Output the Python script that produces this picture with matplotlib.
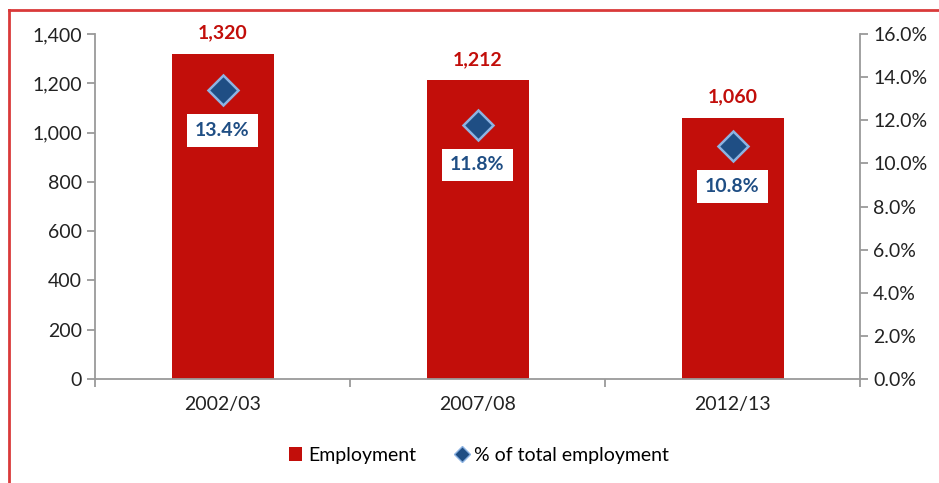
import matplotlib.pyplot as plt
import matplotlib.ticker as mticker
from matplotlib.lines import Line2D
from matplotlib.patches import Patch

years = ["2002/03", "2007/08", "2012/13"]
employment = [1320, 1212, 1060]
share_pct = [13.4, 11.8, 10.8]

bar_color = "#C20E0A"
dia_color = "#1F4E84"
dia_edge = "#8DB3E2"
grey = "#9A9A9A"

plt.rcParams["font.family"] = ["Lato", "DejaVu Sans"]

fig = plt.figure(figsize=(9.39, 4.83), dpi=100)
ax = fig.add_axes([95 / 939, 1 - 379 / 483, 765 / 939, 345 / 483])
ax2 = ax.twinx()

x = range(len(years))
ax.bar(x, employment, width=0.4, color=bar_color, zorder=2)
ax.set_xlim(-0.5, 2.5)
ax.set_ylim(0, 1400)
ax.yaxis.set_major_locator(mticker.MultipleLocator(200))
ax.yaxis.set_major_formatter(mticker.FuncFormatter(lambda v, p: f"{v:,.0f}"))

# value labels above bars
for i, v in enumerate(employment):
    ax.annotate(f"{v:,}", (i, v), xytext=(0, 9), textcoords="offset points",
                ha="center", va="bottom", color=bar_color, fontsize=14, fontweight="bold")

ax2.plot(x, share_pct, linestyle="none", marker="D", markersize=15,
         markerfacecolor=dia_color, markeredgecolor=dia_edge, markeredgewidth=1.8, zorder=3)
ax2.set_ylim(0, 16)
ax2.yaxis.set_major_locator(mticker.MultipleLocator(2))
ax2.yaxis.set_major_formatter(mticker.FuncFormatter(lambda v, p: f"{v:.1f}%"))

for i, v in enumerate(share_pct):
    ax2.annotate(f"{v}%", (i, v), xytext=(0, -29), textcoords="offset points",
                 ha="center", va="center", color=dia_color, fontsize=14, fontweight="bold",
                 bbox=dict(boxstyle="square,pad=0.4", fc="white", ec="none"))

# axis styling
for a in (ax, ax2):
    for s in a.spines.values():
        s.set_color(grey)
        s.set_linewidth(1.3)
    a.spines["top"].set_visible(False)
    a.tick_params(colors="#222222", labelsize=14, length=6, width=1.3, color=grey)
ax.spines["right"].set_visible(False)
ax2.spines["left"].set_visible(False)
ax2.spines["bottom"].set_visible(False)

ax.set_xticks(list(x))
ax.set_xticklabels(years)
ax.set_xticks([-0.5, 0.5, 1.5, 2.5], minor=True)
ax.tick_params(axis="x", which="major", length=0, pad=12)
ax.tick_params(axis="x", which="minor", length=6, width=1.3, color=grey)

handles = [Patch(facecolor=bar_color, label="Employment"),
           Line2D([], [], linestyle="none", marker="D", markersize=8,
                  markerfacecolor=dia_color, markeredgecolor=dia_edge,
                  label="% of total employment")]
fig.legend(handles=handles, loc="center", bbox_to_anchor=(0.51, 1 - 455 / 483), ncol=2,
           frameon=False, fontsize=14, handlelength=0.7, handletextpad=0.3,
           columnspacing=2.0)

# red frame (left and top edges visible)
fig.add_artist(Line2D([9 / 939, 9 / 939], [0, 1 - 10 / 483], color="#D93A3A", lw=2,
                      transform=fig.transFigure))
fig.add_artist(Line2D([9 / 939, 1], [1 - 10 / 483, 1 - 10 / 483], color="#D93A3A", lw=2,
                      transform=fig.transFigure))

fig.savefig("out.png", dpi=100)
